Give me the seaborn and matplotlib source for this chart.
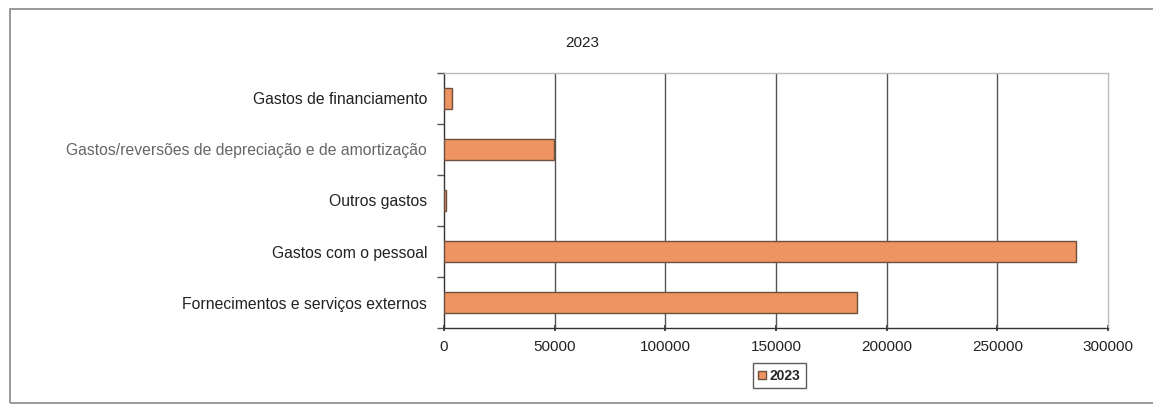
import matplotlib
matplotlib.use("Agg")
import matplotlib.pyplot as plt
from matplotlib.patches import Rectangle, Patch
import seaborn as sns
import pandas as pd

# Expense categories (top to bottom) and their 2023 values
categories = [
    "Gastos de financiamento",
    "Gastos/reversões de depreciação e de amortização",
    "Outros gastos",
    "Gastos com o pessoal",
    "Fornecimentos e serviços externos",
]
values_2023 = [3500, 49800, 800, 285500, 186400]
series_name = "2023"
x_ticks = [0, 50000, 100000, 150000, 200000, 250000, 300000]

bar_color = "#EE9460"
edge_color = "#6E5040"

sns.set_theme(style="white")
plt.rcParams["font.family"] = ["Liberation Sans", "DejaVu Sans"]

df = pd.DataFrame({"categoria": categories, "valor": values_2023, "serie": series_name})

fig = plt.figure(figsize=(11.53, 4.05), dpi=100)
ax = fig.add_axes([0.385, 0.19, 0.576, 0.63])

sns.barplot(data=df, x="valor", y="categoria", orient="h", color=bar_color,
            saturation=1, width=0.4, edgecolor=edge_color, linewidth=1.0,
            ax=ax, legend=False, zorder=3)

ax.set_xlim(0, 300000)
ax.set_ylim(4.5, -0.5)
ax.set_xticks(x_ticks)
ax.set_xticklabels([str(t) for t in x_ticks], fontsize=11, color="#222222")
ax.set_xlabel("")
ax.set_ylabel("")

# vertical gridlines
for t in x_ticks[1:-1]:
    ax.axvline(t, color="#555555", linewidth=1.0, zorder=1)

ax.tick_params(axis="y", which="major", left=False, length=0, pad=12)
ax.tick_params(axis="x", bottom=True, length=5, direction="inout",
               color="#333333", pad=6)
label_colors = ["#222222", "#666666", "#222222", "#222222", "#222222"]
for lbl, c in zip(ax.get_yticklabels(), label_colors):
    lbl.set_fontsize(11.3)
    lbl.set_color(c)

# category boundary ticks on the left axis
ax.set_yticks([-0.5, 0.5, 1.5, 2.5, 3.5, 4.5], minor=True)
ax.tick_params(axis="y", which="minor", left=True, length=5, direction="out",
               color="#555555")

for side in ["left", "bottom"]:
    ax.spines[side].set_color("#333333")
    ax.spines[side].set_linewidth(1.0)
for side in ["top", "right"]:
    ax.spines[side].set_color("#BBBBBB")
    ax.spines[side].set_linewidth(1.0)

fig.text(0.505, 0.895, "2023", ha="center", va="center", fontsize=11, color="#222222")

handles = [Patch(facecolor=bar_color, edgecolor=edge_color, label=series_name)]
leg = fig.legend(handles=handles, loc="center", bbox_to_anchor=(0.676, 0.072),
                 frameon=True, handlelength=0.6, handleheight=0.6,
                 handletextpad=0.25, borderpad=0.4, borderaxespad=0, fancybox=False,
                 prop={"weight": "bold", "size": 10})
leg.get_frame().set_edgecolor("#333333")
leg.get_frame().set_linewidth(1.0)

# outer chart frame
fig.patches.append(Rectangle((10 / 1153, 2 / 405), 1.2, 1 - 11 / 405,
                             transform=fig.transFigure, fill=False,
                             edgecolor="#888888", linewidth=1.2))

fig.savefig("out.png", dpi=100, facecolor="white")
